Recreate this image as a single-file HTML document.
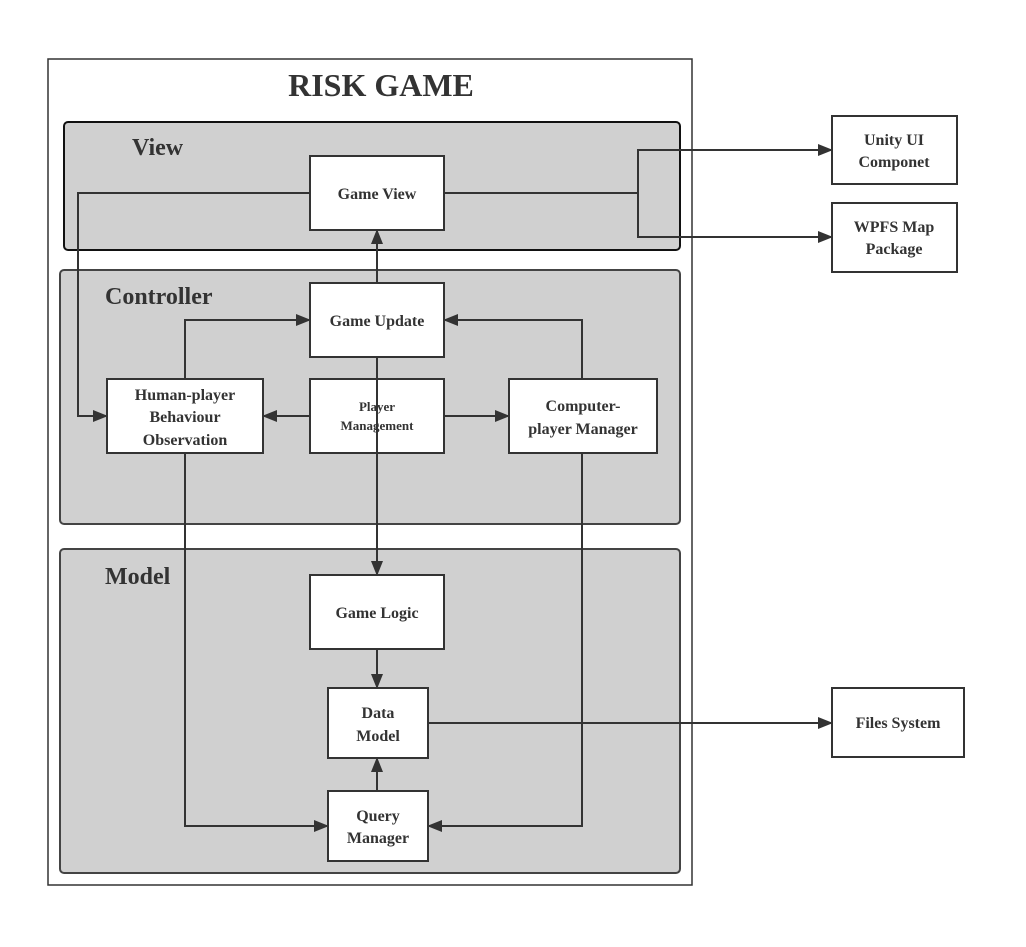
<!DOCTYPE html>
<html><head><meta charset="utf-8"><style>
html,body{margin:0;padding:0;background:#fff;}
svg{display:block;}
text{font-family:"Liberation Serif",serif;font-weight:bold;fill:#333;}
</style></head><body>
<svg width="1026" height="947" viewBox="0 0 1026 947" xmlns="http://www.w3.org/2000/svg">
<defs>
<marker id="a" markerWidth="15" markerHeight="12" refX="14" refY="6" orient="auto" markerUnits="userSpaceOnUse">
<path d="M0,0 L15,6 L0,12 z" fill="#333"/>
</marker>
</defs>
<rect x="48" y="59" width="644" height="826" fill="#fff" stroke="#333" stroke-width="1.5"/>
<text x="381" y="96" font-size="32" text-anchor="middle">RISK GAME</text>
<rect x="64" y="122" width="616" height="128" rx="4" fill="#d0d0d0" stroke="#111" stroke-width="2"/>
<rect x="60" y="270" width="620" height="254" rx="4" fill="#d0d0d0" stroke="#444" stroke-width="2"/>
<rect x="60" y="549" width="620" height="324" rx="4" fill="#d0d0d0" stroke="#444" stroke-width="2"/>
<text x="132" y="155" font-size="24">View</text>
<text x="105" y="304" font-size="24">Controller</text>
<text x="105" y="584" font-size="24">Model</text>

<g fill="none" stroke="#333" stroke-width="2">
<polyline points="444,193 638,193"/>
<polyline points="832,150 638,150 638,237 832,237" marker-end="url(#a)"/>
<line x1="638" y1="150" x2="832" y2="150" marker-end="url(#a)"/>
<polyline points="310,193 78,193 78,416 107,416" marker-end="url(#a)"/>
<line x1="377" y1="283" x2="377" y2="230" marker-end="url(#a)"/>
<polyline points="185,379 185,320 310,320" marker-end="url(#a)"/>
<polyline points="582,379 582,320 444,320" marker-end="url(#a)"/>
<line x1="310" y1="416" x2="263" y2="416" marker-end="url(#a)"/>
<line x1="444" y1="416" x2="509" y2="416" marker-end="url(#a)"/>
<line x1="377" y1="649" x2="377" y2="688" marker-end="url(#a)"/>
<line x1="377" y1="791" x2="377" y2="758" marker-end="url(#a)"/>
<polyline points="185,453 185,826 328,826" marker-end="url(#a)"/>
<polyline points="582,453 582,826 428,826" marker-end="url(#a)"/>
<line x1="428" y1="723" x2="832" y2="723" marker-end="url(#a)"/>
</g>

<g fill="#fff" stroke="#333" stroke-width="2">
<rect x="310" y="156" width="134" height="74"/>
<rect x="310" y="283" width="134" height="74"/>
<rect x="107" y="379" width="156" height="74"/>
<rect x="310" y="379" width="134" height="74"/>
<rect x="509" y="379" width="148" height="74"/>
<rect x="310" y="575" width="134" height="74"/>
<rect x="328" y="688" width="100" height="70"/>
<rect x="328" y="791" width="100" height="70"/>
<rect x="832" y="116" width="125" height="68"/>
<rect x="832" y="203" width="125" height="69"/>
<rect x="832" y="688" width="132" height="69"/>
</g>
<line x1="377" y1="357" x2="377" y2="575" stroke="#333" stroke-width="2" marker-end="url(#a)"/>

<g font-size="16" text-anchor="middle">
<text x="377" y="199">Game View</text>
<text x="377" y="326">Game Update</text>
<text x="185" y="400">Human-player</text>
<text x="185" y="422">Behaviour</text>
<text x="185" y="445">Observation</text>
<text x="377" y="411" font-size="13">Player</text>
<text x="377" y="430" font-size="13">Management</text>
<text x="583" y="411">Computer-</text>
<text x="583" y="434">player Manager</text>
<text x="377" y="618">Game Logic</text>
<text x="378" y="718">Data</text>
<text x="378" y="741">Model</text>
<text x="378" y="821">Query</text>
<text x="378" y="843">Manager</text>
<text x="894" y="145">Unity UI</text>
<text x="894" y="167">Componet</text>
<text x="894" y="232">WPFS Map</text>
<text x="894" y="254">Package</text>
<text x="898" y="728">Files System</text>
</g>
</svg>
</body></html>
